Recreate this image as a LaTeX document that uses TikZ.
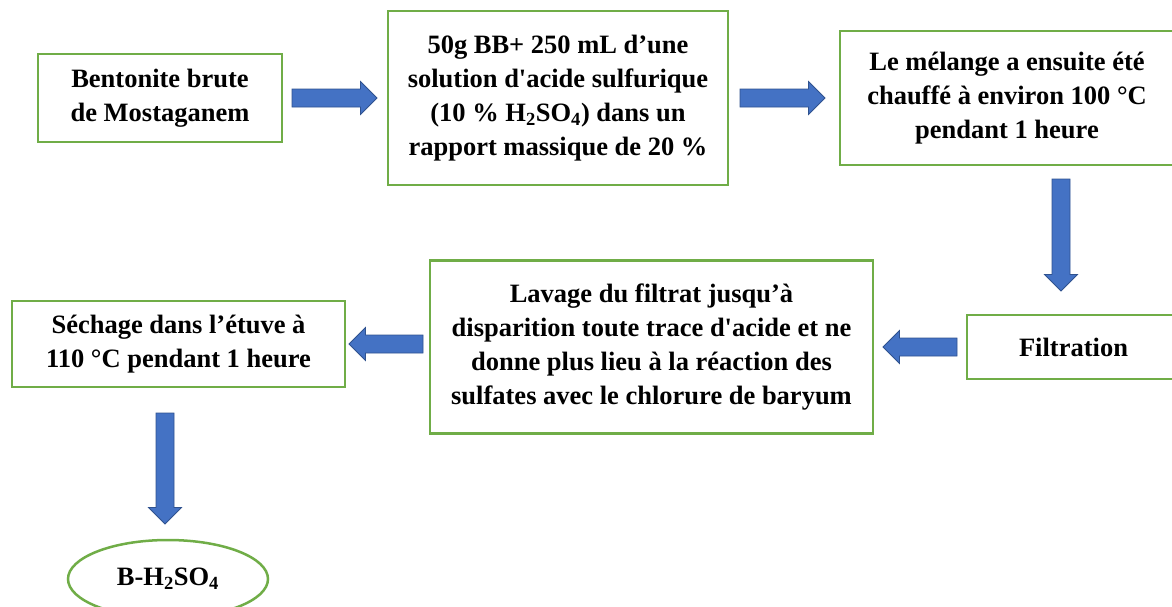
\documentclass[tikz,border=0pt]{standalone}
\usepackage{fontspec}
\setmainfont{Liberation Serif}
\usetikzlibrary{shapes.geometric, positioning, calc}
\definecolor{BoxGreen}{RGB}{112, 173, 71}
\definecolor{ArrowBlue}{RGB}{68, 114, 196}
\definecolor{ArrowEdge}{RGB}{47, 82, 143}
\tikzset{
    tail gap/.store in=\tailgap, tail gap=10pt,
    tip gap/.store in=\tipgap, tip gap=10pt
}

\begin{document}
\begin{tikzpicture}[
    x=1pt, y=-1pt,
    stage/.style={rectangle, draw=BoxGreen, line width=2.5pt, fill=white, align=center, inner sep=0pt, outer sep=0pt, font=\fontsize{26.5}{34}\selectfont\bfseries},
    product/.style={ellipse, draw=BoxGreen, line width=2.5pt, fill=white, minimum width=200pt, minimum height=78pt, inner sep=0pt, outer sep=0pt, font=\fontsize{26.5}{34}\selectfont\bfseries},
    flow/.style={draw=ArrowEdge, fill=ArrowBlue, line width=0.8pt, line join=miter, tail gap=10pt, tip gap=10pt,
        to path={let \p1=(\tikztostart), \p2=(\tikztotarget),
            \n1={atan2(\y2-\y1,\x2-\x1)}, \n2={veclen(\x2-\x1,\y2-\y1)} in
            {[shift={(\p1)}, rotate=\n1]
            (\tailgap,-9pt) -- (\n2-\tipgap-16.5pt,-9pt) -- (\n2-\tipgap-16.5pt,-16.5pt)
            -- (\n2-\tipgap,0pt) -- (\n2-\tipgap-16.5pt,16.5pt) -- (\n2-\tipgap-16.5pt,9pt)
            -- (\tailgap,9pt) -- cycle}}}
]
    \useasboundingbox (0,0) rectangle (1172,606);

    % Premiere ligne
    \node[stage, minimum width=244pt, minimum height=88pt] (bentonite) at (160,98) {Bentonite brute\\de Mostaganem};
    \node[stage, minimum width=340pt, minimum height=174pt, right=106pt of bentonite] (solution) {50g BB+ 250 mL d’une\\solution d\textquotesingle acide sulfurique\\(10 \% H\textsubscript{2}SO\textsubscript{4}) dans un\\rapport massique de 20 \%};
    \node[stage, minimum width=334pt, minimum height=134pt, right=112pt of solution] (melange) {Le mélange a ensuite été\\chauffé à environ 100 °C\\pendant 1 heure};

    % Deuxieme ligne
    \node[stage, minimum width=213pt, minimum height=64pt] (filtration) at (1073.5,347) {Filtration};
    \node[stage, minimum width=443pt, minimum height=173pt, left=94pt of filtration] (lavage) {Lavage du filtrat jusqu’à\\disparition toute trace d\textquotesingle acide et ne\\donne plus lieu à la réaction des\\sulfates avec le chlorure de baryum};
    \node[stage, minimum width=333pt, minimum height=86pt] (sechage) at (178.5,344) {Séchage dans l’étuve à\\110 °C pendant 1 heure};

    % Produit final
    \node[product] (produit) at (168,579) {B-H\textsubscript{2}SO\textsubscript{4}};

    % Fleches
    \draw[flow, tip gap=11pt] (bentonite.east) to (solution.west);
    \draw[flow, tail gap=12pt, tip gap=15pt] (solution.east) to (melange.west);
    \draw[flow, tail gap=14pt, tip gap=24pt] ([xshift=-12.5pt]filtration.north |- melange.south) to ([xshift=-12.5pt]filtration.north);
    \draw[flow] (filtration.west) to (lavage.east);
    \draw[flow, tail gap=7pt, tip gap=4pt] (lavage.west |- sechage.east) to (sechage.east);
    \draw[flow, tail gap=26pt, tip gap=16pt] ([xshift=-13.5pt]sechage.south) to ([xshift=-3pt]produit.north);
\end{tikzpicture}
\end{document}
